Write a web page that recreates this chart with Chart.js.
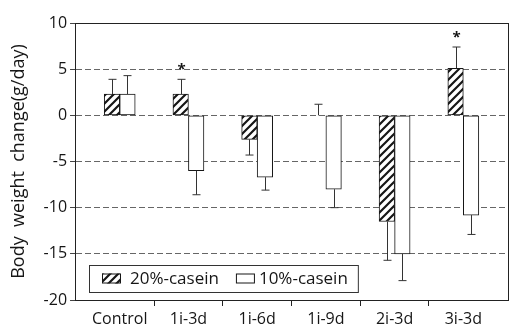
<!DOCTYPE html>
<html>
<head>
<meta charset="utf-8">
<script src="https://cdn.jsdelivr.net/npm/chart.js@4.4.0/dist/chart.umd.min.js"></script>
<style>
  html, body { margin: 0; padding: 0; background: #fff; overflow: hidden; }
  canvas { display: block; }
</style>
</head>
<body>
<canvas id="chart" width="516" height="333"></canvas>
<script>
// values
var categories = ["Control", "1i-3d", "1i-6d", "1i-9d", "2i-3d", "3i-3d"];
var seriesNames = ["20%-casein", "10%-casein"];
var casein20 = [2.3, 2.3, -2.6, 0, -11.5, 5.1];
var casein20Err = [3.9, 3.9, -4.3, 1.2, -15.7, 7.4];   // where the whisker ends
var casein10 = [2.3, -6.0, -6.7, -8.0, -15.0, -10.8];
var casein10Err = [4.3, -8.6, -8.1, -10.0, -17.9, -12.9];
var significant20 = [false, true, false, false, false, true];
var yMin = -20, yMax = 10, yStep = 5;

var FONT = "'Open Sans', 'Noto Sans', sans-serif";
var INK = "#161616";

var ctx = document.getElementById("chart").getContext("2d");

function makeHatch() {
  var c = document.createElement("canvas");
  c.width = 8; c.height = 8;
  var g = c.getContext("2d");
  g.fillStyle = "#fff";
  g.fillRect(0, 0, 8, 8);
  g.strokeStyle = INK;
  g.lineWidth = 2.2;
  g.beginPath();
  g.moveTo(-1, 9); g.lineTo(9, -1);
  g.moveTo(-3, 3); g.lineTo(3, -3);
  g.moveTo(5, 11); g.lineTo(11, 5);
  g.stroke();
  return ctx.createPattern(c, "repeat");
}
var hatch = makeHatch();

function toPoints(arr) {
  return arr.map(function (v, i) { return { x: i, y: v }; });
}

var errEnds = [casein20Err, casein10Err];

// whiskers + asterisks
var errorBars = {
  id: "errorBars",
  afterDatasetsDraw: function (chart) {
    var c = chart.ctx;
    var ys = chart.scales.y;
    c.save();
    c.strokeStyle = "#333";
    c.lineWidth = 1;
    errEnds.forEach(function (ends, d) {
      var meta = chart.getDatasetMeta(d);
      meta.data.forEach(function (bar, i) {
        var x = Math.round(bar.x) + 0.5;
        var yEnd = ys.getPixelForValue(ends[i]);
        c.beginPath();
        c.moveTo(x, bar.y);
        c.lineTo(x, yEnd);
        c.moveTo(x - 4, yEnd);
        c.lineTo(x + 4, yEnd);
        c.stroke();
        if (d === 0 && significant20[i]) {
          c.fillStyle = INK;
          c.font = "bold 15px " + FONT;
          c.textAlign = "center";
          c.textBaseline = "alphabetic";
          c.fillText("*", x, yEnd - 5);
        }
      });
    });
    c.restore();
  }
};

// box around the plot and the legend inside it
var frameAndLegend = {
  id: "frameAndLegend",
  afterDraw: function (chart) {
    var c = chart.ctx;
    var a = chart.chartArea;
    c.save();
    c.strokeStyle = "#222";
    c.lineWidth = 1;
    c.strokeRect(Math.round(a.left) + 0.5, Math.round(a.top) + 0.5,
      Math.round(a.right - a.left), Math.round(a.bottom - a.top));

    c.font = "17px " + FONT;
    var left = Math.round(a.left) + 14, top = Math.round(a.bottom) - 35;
    var h = 27, mid = top + h / 2;
    var x = left + 13;
    var fills = [hatch, "#fff"];
    var right = x;
    chart.data.datasets.forEach(function (ds, i) {
      c.fillStyle = fills[i];
      c.fillRect(x, mid - 5, 19, 10);
      c.strokeStyle = INK;
      c.strokeRect(x + 0.5, mid - 4.5, 18, 9);
      c.fillStyle = INK;
      c.textBaseline = "middle";
      c.textAlign = "left";
      var tx = i === 0 ? x + 28 : x + 23;
      c.fillText(ds.label, tx, mid + 1);
      right = tx + c.measureText(ds.label).width;
      x = right + 17;
    });
    c.strokeStyle = "#333";
    c.strokeRect(left + 0.5, top + 0.5, right + 10 - left, h);
    c.restore();
  }
};

var config = {
  type: "bar",
  data: {
    datasets: [
      {
        label: seriesNames[0],
        data: toPoints(casein20),
        backgroundColor: hatch,
        borderColor: INK,
        borderWidth: 1,
        borderSkipped: false
      },
      {
        label: seriesNames[1],
        data: toPoints(casein10),
        backgroundColor: "#fff",
        borderColor: INK,
        borderWidth: 1,
        borderSkipped: false
      }
    ]
  },
  options: {
    responsive: false,
    animation: false,
    datasets: { bar: { barThickness: 15.5 } },
    layout: { padding: { top: 23, right: 8, left: 8, bottom: 0 } },
    plugins: {
      legend: { display: false },
      tooltip: { enabled: false }
    },
    scales: {
      x: {
        type: "linear",
        offset: false,
        min: -0.65,
        max: categories.length - 0.35,
        afterBuildTicks: function (axis) {
          var t = [];
          categories.forEach(function (c, i) {
            t.push({ value: i });
            if (i < categories.length - 1) t.push({ value: i + 0.5 });
          });
          axis.ticks = t;
        },
        afterFit: function (axis) {
          axis.height = 33;
        },
        ticks: {
          autoSkip: false,
          maxRotation: 0,
          padding: 4,
          color: INK,
          font: { family: FONT, size: 16 },
          callback: function (v) {
            return Number.isInteger(v) ? categories[v] : "";
          }
        },
        grid: {
          offset: false,
          drawOnChartArea: false,
          tickLength: 6,
          color: function (c) {
            return c.tick && !Number.isInteger(c.tick.value) ? "#222" : "rgba(0,0,0,0)";
          }
        },
        border: { display: true, color: "#222" }
      },
      y: {
        min: yMin,
        max: yMax,
        ticks: {
          stepSize: yStep,
          padding: 3,
          color: INK,
          font: { family: FONT, size: 16 }
        },
        grid: {
          color: "#666",
          tickLength: 5,
          tickColor: "#444"
        },
        border: { display: true, color: "#222", dash: [6, 3] },
        title: {
          display: true,
          text: "Body  weight  change(g/day)",
          color: INK,
          font: { family: FONT, size: 18 },
          padding: { top: 0, bottom: 11 }
        }
      }
    }
  },
  plugins: [errorBars, frameAndLegend]
};

var myChart = new Chart(ctx, config);
</script>
</body>
</html>
